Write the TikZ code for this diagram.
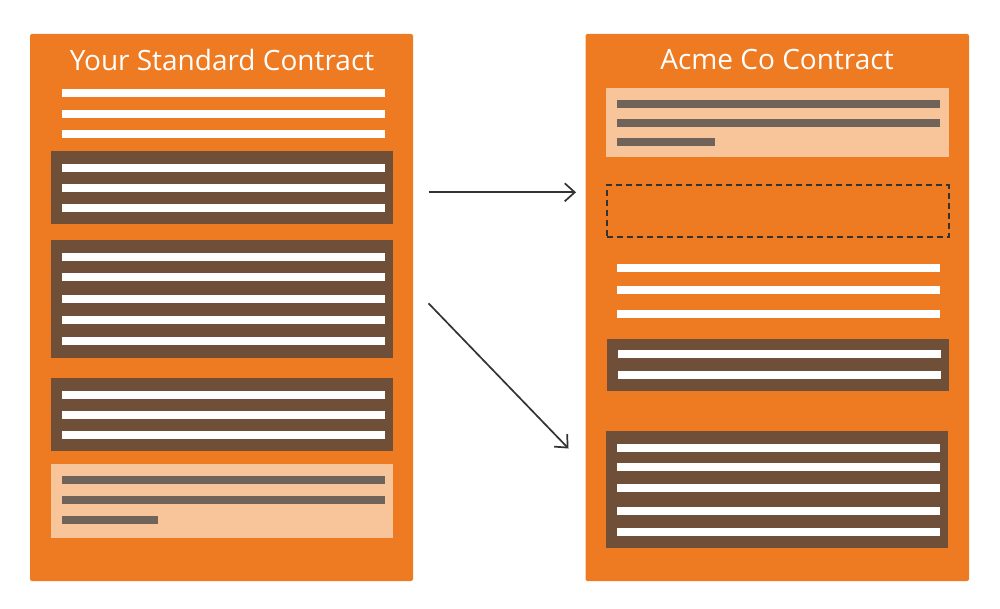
\documentclass[tikz,border=0pt]{standalone}
\usepackage{fontspec}
\setmainfont{Open Sans}
\usetikzlibrary{arrows.meta}
\definecolor{orng}{HTML}{EE7A22}
\definecolor{brwn}{HTML}{704F38}
\definecolor{pch}{HTML}{F8C499}
\definecolor{gline}{HTML}{6F635A}
\definecolor{dk}{HTML}{333333}
\tikzset{
  panel/.style={fill=orng, rounded corners=2pt, draw=none},
  brownbox/.style={fill=brwn, draw=none},
  peachbox/.style={fill=pch, draw=none},
  holebox/.style={draw=dk, line width=1.9pt, dash pattern=on 6pt off 4pt},
  wline/.style={fill=white},
  gl/.style={fill=gline},
  ttl/.style={text=white, font=\fontsize{28}{31}\selectfont, inner sep=0pt},
  conn/.style={draw=dk, line width=1.7pt, -{Straight Barb[length=10pt,width=18pt,line width=1.7pt]}},
}
\begin{document}
\begin{tikzpicture}[x=1pt,y=-1pt]
\useasboundingbox (0,0) rectangle (1000,609);
% ---------- left panel ----------
\path[panel] (30,34) rectangle (413,581);
\node[ttl] (Lt) at (222,60) {Your Standard Contract};
\foreach \y in {89,110,130} \path[wline] (62,\y) rectangle (385,\y+8);
\path[brownbox] (51,151) rectangle (393,224);
\foreach \y in {164,184,204} \path[wline] (62,\y) rectangle (385,\y+8);
\path[brownbox] (51,240.5) rectangle (393,357.5);
\foreach \y in {253,273.5,295,315.5,337} \path[wline] (62,\y) rectangle (385,\y+8);
\path[brownbox] (51,377.5) rectangle (393,451);
\foreach \y in {390.5,411,431} \path[wline] (62,\y) rectangle (385,\y+8);
\path[peachbox] (51,463.5) rectangle (393,537.5);
\foreach \y in {475.5,495.5} \path[gl] (62,\y) rectangle (385,\y+8);
\path[gl] (62,516) rectangle (158,524);
% ---------- right panel ----------
\path[panel] (585.5,34) rectangle (969,581);
\node[ttl] (Rt) at (777,60) {Acme Co Contract};
\path[peachbox] (606,88) rectangle (948.5,157.5);
\foreach \y in {100.5,119} \path[gl] (616.5,\y) rectangle (939.5,\y+8);
\path[gl] (616.5,138) rectangle (714.5,146);
\node[holebox, inner sep=0pt, minimum width=342pt, minimum height=51.5pt, anchor=north west] (hole) at (606,184.3) {};
\foreach \y in {264.5,286.5,309.5} \path[wline] (616.5,\y) rectangle (939.5,\y+8);
\path[brownbox] (607,339.3) rectangle (949,390.7);
\foreach \y in {350,370.7} \path[wline] (617.5,\y) rectangle (940.5,\y+8);
\path[brownbox] (606,431) rectangle (948,547.7);
\foreach \y in {444,463.3,484,506.7,528.3} \path[wline] (616.5,\y) rectangle (939.5,\y+8);
% ---------- connectors ----------
\coordinate (a1s) at (428.5,192.3);
\coordinate (a1e) at (576,192.3);
\coordinate (a2s) at (428.5,303.3);
\coordinate (a2e) at (568.5,448.5);
\draw[conn] (a1s) -- (a1e);
\draw[conn] (a2s) -- (a2e);
\end{tikzpicture}
\end{document}
